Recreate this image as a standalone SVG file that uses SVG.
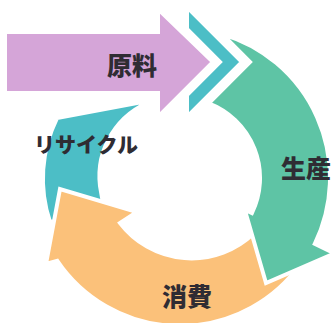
<svg xmlns="http://www.w3.org/2000/svg" width="336" height="323" viewBox="0 0 336 323">
<style>
.arr{stroke:#fff;stroke-width:4;stroke-linejoin:miter}
.lbl{font-family:"Noto Sans CJK JP","Noto Sans",sans-serif;font-weight:900;fill:#2f2c33;text-anchor:middle;dominant-baseline:central}
</style>
<rect width="336" height="323" fill="#fff"/>
<g id="connectors">
<path id="recycle-arrow" class="arr" fill="#4cbec6" d="M153,100 L57,118 A137,137 0 0 0 50,222 L105,215 L100,186 A80,80 0 0 1 153,101 Z"/>
<path id="consume-arrow" class="arr" fill="#fbc17a" d="M301.2,262.9 A148,148 0 0 1 57.3,260.8 L46,264 L60,189 L137,212 L120,223 A90,90 0 0 0 253.6,233.6 Z"/>
<path id="produce-arrow" class="arr" fill="#5ec4a5" d="M222,34 L250,62 L208.7,103.3 A80,80 0 0 1 251.9,213.1 L244.7,209.6 L266,283 L334.6,253.4 L314.8,243.8 A150,150 0 0 0 222,34 Z"/>
<path id="chevron" class="arr" fill="#4cbec6" d="M187,7 L242,62 L187,117 L187,95 L220,62 L187,29 Z"/>
</g>
<g id="node-raw">
<path class="arr" fill="#d5a5d8" d="M5,32 L158,32 L158,9 L213,62 L158,117 L158,93 L5,93 Z"/>
<text class="lbl" x="132" y="64" font-size="25">原料</text>
</g>
<g id="node-produce"><text class="lbl" x="306" y="167" font-size="25">生産</text></g>
<g id="node-consume"><text class="lbl" x="187" y="295" font-size="25">消費</text></g>
<g id="node-recycle"><text class="lbl" x="86" y="143" font-size="21">リサイクル</text></g>
</svg>
